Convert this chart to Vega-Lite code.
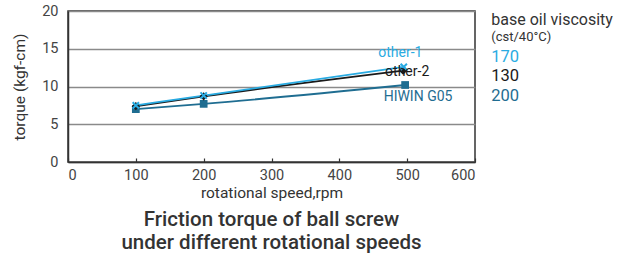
{
  "$schema": "https://vega.github.io/schema/vega-lite/v6.json",
  "width": 407,
  "height": 151,
  "autosize": {"type": "none"},
  "padding": {"left": 68, "top": 11, "right": 152, "bottom": 96},
  "config": {
    "font": "Roboto",
    "view": {"stroke": "#333333", "strokeWidth": 1.5},
    "axis": {"labelFont": "Roboto", "titleFont": "Roboto", "labelColor": "#444444", "titleColor": "#333333", "labelFontSize": 14.5, "titleFontSize": 15.5, "titleFontWeight": "normal", "domainColor": "#333333", "domainWidth": 1.5}
  },
  "title": {
    "text": ["Friction torque of ball screw", "under different rotational speeds"],
    "orient": "bottom",
    "anchor": "middle",
    "fontSize": 20.5,
    "fontWeight": 500,
    "color": "#333333",
    "lineHeight": 23,
    "offset": 9
  },
  "datasets": {
    "torque": [
      {"series": "HIWIN G05", "rpm": 100, "torque": 7.0},
      {"series": "HIWIN G05", "rpm": 200, "torque": 7.7},
      {"series": "HIWIN G05", "rpm": 497, "torque": 10.2},
      {"series": "other-2", "rpm": 100, "torque": 7.4},
      {"series": "other-2", "rpm": 200, "torque": 8.7},
      {"series": "other-2", "rpm": 494, "torque": 12.1},
      {"series": "other-1", "rpm": 100, "torque": 7.5},
      {"series": "other-1", "rpm": 200, "torque": 8.8},
      {"series": "other-1", "rpm": 495, "torque": 12.6}
    ],
    "labels": [
      {"series": "other-1", "label": "other-1", "rpm": 490, "torque": 14.4, "align": "center"},
      {"series": "other-2", "label": "other-2", "rpm": 500, "torque": 11.9, "align": "left"},
      {"series": "HIWIN G05", "label": "HIWIN G05", "rpm": 516, "torque": 8.6, "align": "center"}
    ],
    "legend": [
      {"series": "other-1", "label": "170", "rpm": 624, "torque": 13.9},
      {"series": "other-2", "label": "130", "rpm": 624, "torque": 11.4},
      {"series": "HIWIN G05", "label": "200", "rpm": 624, "torque": 8.7}
    ],
    "legendTitle": [
      {"label": "base oil viscosity", "rpm": 624, "torque": 18.8, "size": "big"},
      {"label": "(cst/40°C)", "rpm": 624, "torque": 16.6, "size": "small"}
    ]
  },
  "encoding": {
    "x": {"field": "rpm", "type": "quantitative", "scale": {"domain": [0, 600]},
          "axis": {"values": [0, 100, 200, 300, 400, 500, 600], "grid": false, "ticks": true, "tickSize": -4, "tickColor": "#333333", "tickWidth": 1.2, "labelPadding": 10, "title": "rotational speed,rpm", "titlePadding": 4}},
    "y": {"field": "torque", "type": "quantitative", "scale": {"domain": [0, 20]},
          "axis": {"values": [0, 5, 10, 15, 20], "grid": true, "gridColor": "#8a8a8a", "gridWidth": 1.5, "ticks": false, "labelPadding": 10, "title": "torque (kgf-cm)", "titlePadding": 14}}
  },
  "layer": [
    {
      "data": {"name": "torque"},
      "mark": {"type": "line", "interpolate": "monotone", "strokeWidth": 1.8},
      "encoding": {
        "color": {"field": "series", "type": "nominal", "legend": null,
                  "scale": {"domain": ["other-1", "other-2", "HIWIN G05"], "range": ["#29abe2", "#1a1a1a", "#1f6d91"]}},
        "order": {"field": "rpm"}
      }
    },
    {
      "data": {"name": "torque"},
      "transform": [{"filter": "datum.series === 'HIWIN G05'"}],
      "mark": {"type": "point", "shape": "square", "filled": true, "size": 60, "opacity": 1, "color": "#1f6d91"},
      "encoding": {}
    },
    {
      "data": {"name": "torque"},
      "transform": [{"filter": "datum.series === 'other-2'"}],
      "mark": {"type": "point", "shape": "diamond", "filled": true, "size": 70, "opacity": 1, "color": "#1a1a1a"},
      "encoding": {}
    },
    {
      "data": {"name": "torque"},
      "transform": [{"filter": "datum.series === 'other-1'"}],
      "mark": {"type": "point", "shape": "M-1,-1L1,1M-1,1L1,-1", "filled": false, "size": 40, "strokeWidth": 2, "opacity": 1, "color": "#29abe2"},
      "encoding": {}
    },
    {
      "data": {"name": "labels"},
      "mark": {"type": "text", "fontSize": 14, "baseline": "middle"},
      "encoding": {
        "text": {"field": "label"},
        "align": {"field": "align", "type": "nominal", "scale": null},
        "color": {"field": "series", "type": "nominal", "legend": null,
                  "scale": {"domain": ["other-1", "other-2", "HIWIN G05"], "range": ["#29abe2", "#333333", "#2a7196"]}}
      }
    },
    {
      "data": {"name": "legend"},
      "mark": {"type": "text", "fontSize": 16.5, "align": "left", "baseline": "middle"},
      "encoding": {
        "text": {"field": "label"},
        "color": {"field": "series", "type": "nominal", "legend": null,
                  "scale": {"domain": ["other-1", "other-2", "HIWIN G05"], "range": ["#29abe2", "#333333", "#2a7196"]}}
      }
    },
    {
      "data": {"name": "legendTitle"},
      "mark": {"type": "text", "align": "left", "baseline": "middle", "color": "#333333"},
      "encoding": {
        "text": {"field": "label"},
        "size": {"field": "size", "type": "nominal", "legend": null, "scale": {"domain": ["big", "small"], "range": [16, 13]}}
      }
    }
  ]
}
